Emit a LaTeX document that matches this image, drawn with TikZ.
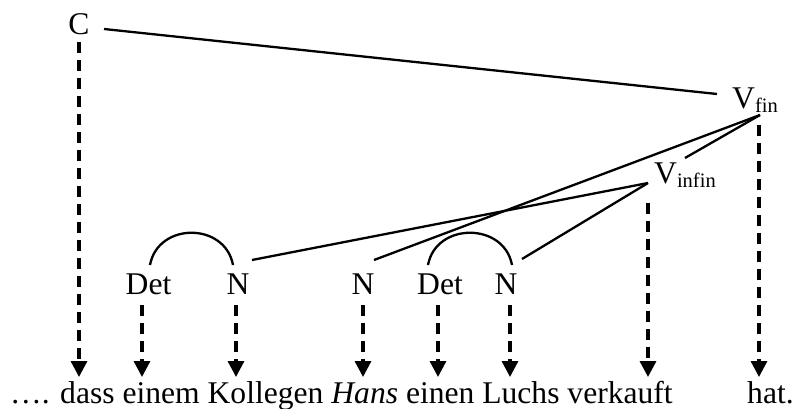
\documentclass[tikz,border=0pt]{standalone}
\usepackage{fontspec}
\setmainfont{Liberation Serif}
\usetikzlibrary{arrows.meta}
\newcommand\mysub[1]{\raisebox{-4pt}{\fontsize{20.5}{22}\selectfont #1}}
\begin{document}
\begin{tikzpicture}[x=1pt,y=-1pt,
  lab/.style={inner sep=0pt, anchor=base, font=\fontsize{31.6}{36}\selectfont},
  labw/.style={lab, anchor=base west},
  solidline/.style={line width=2.3pt},
  deparrow/.style={line width=3.3pt, dash pattern=on 11pt off 7pt,
    -{Triangle[width=16pt,length=16pt]}}]
\useasboundingbox (0,0) rectangle (795,409);
% labels
\node[lab] (C) at (79,35) {C};
\node[labw] (Vfin) at (732,109) {V\mysub{fin}};
\node[labw] (Vinf) at (654,183) {V\mysub{infin}};
\node[lab] (Det1) at (148.5,294) {Det};
\node[lab] (N1) at (238,294) {N};
\node[lab] (N2) at (363,294) {N};
\node[lab] (Det2) at (440,294) {Det};
\node[lab] (N3) at (506,294) {N};
\node[labw] (sent) at (10,403) {…. dass einem Kollegen \textit{Hans} einen Luchs verkauft};
\node[labw] (hat) at (747,403) {hat.};
% connector ends
\coordinate (cR) at (104,29);
\coordinate (vfL) at (717,94);
\coordinate (vfB) at (760,115);
\coordinate (viT) at (685,158);
\coordinate (viB) at (648,183);
\coordinate (n1T) at (252,260);
\coordinate (n2T) at (374,260);
\coordinate (n3T) at (522,259);
\coordinate (d1a) at (150,265);
\coordinate (n1a) at (233,265);
\coordinate (d2a) at (428,265);
\coordinate (n3a) at (512,265);
% solid lines
\draw[solidline] (cR) -- (vfL);
\draw[solidline] (vfB) -- (viT);
\draw[solidline] (vfB) -- (n2T);
\draw[solidline] (viB) -- (n1T);
\draw[solidline] (viB) -- (n3T);
\draw[solidline] (d1a) .. controls (158,222) and (225,222) .. (n1a);
\draw[solidline] (d2a) .. controls (436,222) and (504,222) .. (n3a);
% dashed arrows
\coordinate (sC) at (79,42);     \coordinate (tC) at (79,377);
\coordinate (sD1) at (142,305);  \coordinate (tD1) at (142,377);
\coordinate (sN1) at (236,305);  \coordinate (tN1) at (236,377);
\coordinate (sN2) at (363,305);  \coordinate (tN2) at (363,377);
\coordinate (sD2) at (438,305);  \coordinate (tD2) at (438,377);
\coordinate (sN3) at (510,305);  \coordinate (tN3) at (510,377);
\coordinate (sVi) at (648,203);  \coordinate (tVi) at (648,377);
\coordinate (sVf) at (759,125);  \coordinate (tVf) at (759,377);
\draw[deparrow] (sC) -- (tC);
\draw[deparrow] (sD1) -- (tD1);
\draw[deparrow] (sN1) -- (tN1);
\draw[deparrow] (sN2) -- (tN2);
\draw[deparrow] (sD2) -- (tD2);
\draw[deparrow] (sN3) -- (tN3);
\draw[deparrow] (sVi) -- (tVi);
\draw[deparrow] (sVf) -- (tVf);
\end{tikzpicture}
\end{document}
